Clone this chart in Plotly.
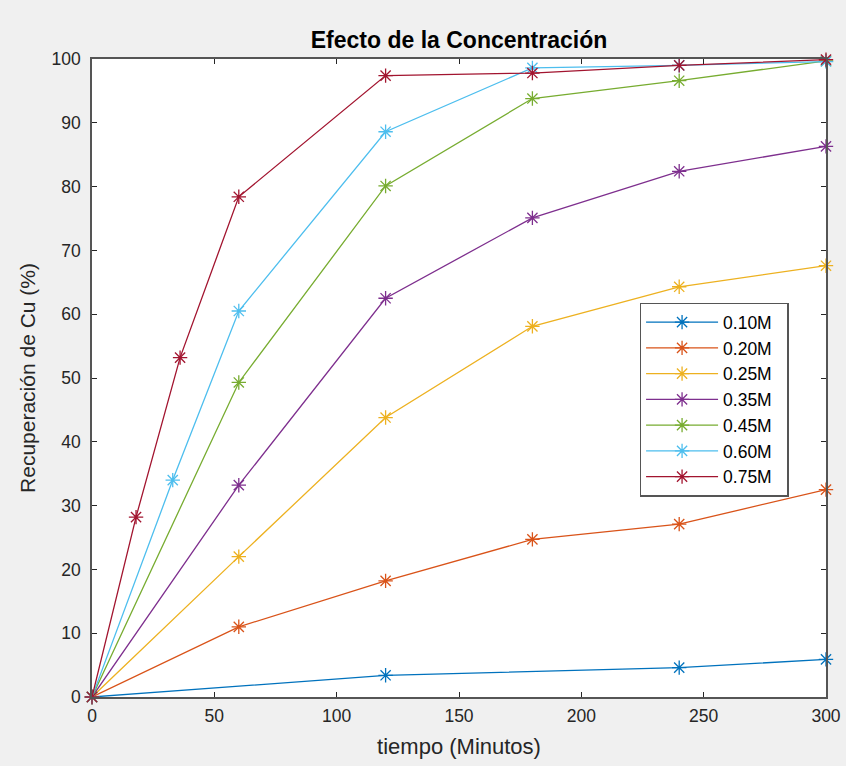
import plotly.graph_objects as go

names = ["0.10M", "0.20M", "0.25M", "0.35M", "0.45M", "0.60M", "0.75M"]
colors = ["#0072BD", "#D95319", "#EDB120", "#7E2F8E", "#77AC30", "#4DBEEE", "#A2142F"]

t_010 = [0, 120, 240, 300]
r_010 = [0, 3.4, 4.6, 5.9]
t_020 = [0, 60, 120, 180, 240, 300]
r_020 = [0, 11.0, 18.2, 24.7, 27.1, 32.5]
t_025 = [0, 60, 120, 180, 240, 300]
r_025 = [0, 22.0, 43.8, 58.1, 64.3, 67.6]
t_035 = [0, 60, 120, 180, 240, 300]
r_035 = [0, 33.2, 62.5, 75.1, 82.4, 86.3]
t_045 = [0, 60, 120, 180, 240, 300]
r_045 = [0, 49.3, 80.1, 93.8, 96.6, 99.7]
t_060 = [0, 33, 60, 120, 180, 240, 300]
r_060 = [0, 34.0, 60.5, 88.6, 98.6, 99.0, 99.6]
t_075 = [0, 18, 36, 60, 120, 180, 240, 300]
r_075 = [0, 28.2, 53.2, 78.4, 97.4, 97.8, 99.0, 99.9]

series_t = [t_010, t_020, t_025, t_035, t_045, t_060, t_075]
series_r = [r_010, r_020, r_025, r_035, r_045, r_060, r_075]

x_ticks = [0, 50, 100, 150, 200, 250, 300]
y_ticks = [0, 10, 20, 30, 40, 50, 60, 70, 80, 90, 100]

FONT = "Liberation Sans, Arial, Helvetica, sans-serif"
AX = "#262626"

fig = go.Figure()
for name, c, t, r in zip(names, colors, series_t, series_r):
    fig.add_trace(go.Scatter(
        x=t, y=r, name=name + "\u00a0\u00a0", mode="lines+markers",
        line=dict(color=c, width=1.3),
        marker=dict(symbol="asterisk-open", size=12, line=dict(color=c, width=1.3)),
        cliponaxis=False,
    ))

fig.update_layout(
    width=846, height=766,
    paper_bgcolor="#F0F0F0", plot_bgcolor="white",
    margin=dict(l=92, r=20, t=59, b=69),
    font=dict(family=FONT, color=AX, size=17),
    title=dict(text="<b>Efecto de la Concentración</b>", x=(92 + 826) / 2 / 846, xanchor="center",
               y=1 - 40 / 766, yanchor="middle", font=dict(size=23, color="black", family=FONT)),
    showlegend=True,
    legend=dict(x=0.746, y=0.618, xanchor="left", yanchor="top",
                bgcolor="white", bordercolor="#555555", borderwidth=1.5,
                font=dict(size=17.5, color="black", family=FONT),
                tracegroupgap=0, itemwidth=72),
)
fig.update_xaxes(range=[0, 300], tickvals=x_ticks, ticks="inside", ticklen=5, tickcolor=AX,
                 showline=True, linecolor="#555555", linewidth=1.5, mirror="ticks", showgrid=False,
                 zeroline=False, automargin=False,
                 title=dict(text="tiempo (Minutos)", font=dict(size=22, color=AX), standoff=14),
                 tickfont=dict(size=17.5, color=AX), ticklabelstandoff=2)
fig.update_yaxes(range=[0, 100], tickvals=y_ticks, ticks="inside", ticklen=5, tickcolor=AX,
                 showline=True, linecolor="#555555", linewidth=1.5, mirror="ticks", showgrid=False,
                 zeroline=False, automargin=False,
                 title=dict(text="Recuperación de Cu (%)", font=dict(size=21, color=AX), standoff=10),
                 tickfont=dict(size=17.5, color=AX), ticklabelstandoff=6)

fig.write_html("out.html", config={"displayModeBar": False},
               post_script="document.body.style.margin='0';document.body.style.background='#F0F0F0';")
